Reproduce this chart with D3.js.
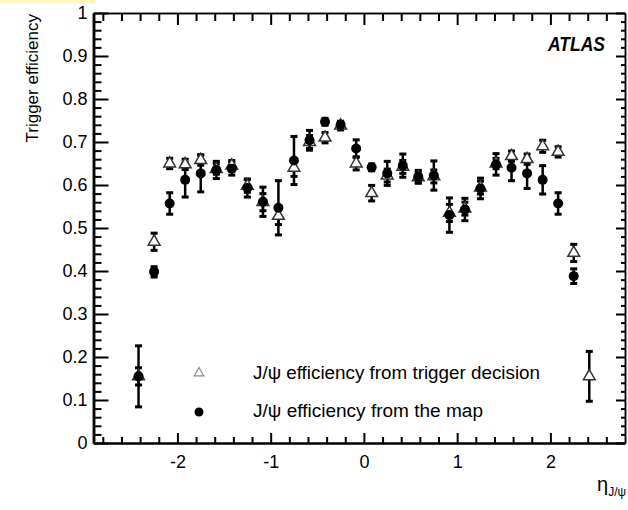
<!DOCTYPE html>
<html>
<head>
<meta charset="utf-8">
<script src="https://cdn.jsdelivr.net/npm/d3@7"></script>
<style>
  html, body { margin: 0; padding: 0; background: #fff; }
  svg { display: block; }
  text { font-family: "Liberation Sans", Arial, Helvetica, sans-serif; fill: #000; }
</style>
</head>
<body>
<svg id="chart" width="628" height="510"></svg>
<script>
// Bin centres in pseudorapidity (bins of width 1/6 between -2.5 and 2.5)
const etaBins = [-2.417, -2.25, -2.083, -1.917, -1.75, -1.583, -1.417, -1.25, -1.083, -0.917,
                 -0.75, -0.583, -0.417, -0.25, -0.083, 0.083, 0.25, 0.417, 0.583, 0.75,
                 0.917, 1.083, 1.25, 1.417, 1.583, 1.75, 1.917, 2.083, 2.25, 2.417];

// J/psi efficiency from trigger decision
const trigEff = [0.155, 0.468, 0.650, 0.648, 0.658, 0.637, 0.645, 0.598, 0.560, 0.528,
                 0.640, 0.700, 0.710, 0.738, 0.650, 0.581, 0.622, 0.642, 0.618, 0.620,
                 0.535, 0.545, 0.594, 0.650, 0.667, 0.660, 0.690, 0.677, 0.442, 0.155];
const trigErr = [0.020, 0.020, 0.012, 0.012, 0.012, 0.012, 0.012, 0.015, 0.020, 0.020,
                 0.020, 0.015, 0.012, 0.010, 0.015, 0.018, 0.015, 0.015, 0.012, 0.015,
                 0.020, 0.015, 0.015, 0.012, 0.012, 0.012, 0.014, 0.012, 0.020, 0.058];

// J/psi efficiency from the map
const mapEff = [0.155, 0.398, 0.557, 0.612, 0.627, 0.635, 0.638, 0.593, 0.561, 0.547,
                0.657, 0.704, 0.747, 0.740, 0.685, 0.641, 0.627, 0.645, 0.619, 0.622,
                0.530, 0.543, 0.592, 0.648, 0.640, 0.627, 0.612, 0.557, 0.388, null];
const mapErr = [0.071, 0.012, 0.025, 0.040, 0.043, 0.020, 0.015, 0.021, 0.034, 0.063,
                0.056, 0.023, 0.008, 0.008, 0.020, 0.008, 0.028, 0.027, 0.015, 0.034,
                0.040, 0.026, 0.024, 0.025, 0.030, 0.035, 0.033, 0.025, 0.017, null];

const xMajor = [-2, -1, 0, 1, 2];
const xMinor = [-2.8, -2.6, -2.4, -2.2, -1.8, -1.6, -1.4, -1.2, -0.8, -0.6, -0.4, -0.2,
                0.2, 0.4, 0.6, 0.8, 1.2, 1.4, 1.6, 1.8, 2.2, 2.4, 2.6];
const yMajor = [0, 0.1, 0.2, 0.3, 0.4, 0.5, 0.6, 0.7, 0.8, 0.9, 1];
const yMinor = d3.range(0, 1.0001, 0.02).filter(v => Math.abs(v * 10 - Math.round(v * 10)) > 1e-6);

const legendItems = ["J/\u03C8 efficiency from trigger decision", "J/\u03C8 efficiency from the map"];

const svg = d3.select("#chart");
const frame = { left: 93.5, right: 625, top: 13, bottom: 443 };

const x = d3.scaleLinear().domain([-2.9, 2.8]).range([frame.left, frame.right]);
const y = d3.scaleLinear().domain([0, 1]).range([frame.bottom, frame.top]);

// thin pale strip along the top-left edge
svg.append("rect").attr("x", 0).attr("y", 0).attr("width", 95).attr("height", 3.5)
  .attr("fill", "#fdf7c4");

function styleAxis(g, width) {
  g.select(".domain").attr("stroke", "#000").attr("stroke-width", width);
  g.selectAll(".tick line").attr("stroke", "#000").attr("stroke-width", 2);
}
function styleLabels(g) {
  g.selectAll(".tick text").attr("font-size", 18).attr("fill", "#000")
    .attr("font-family", "Liberation Sans, Arial, sans-serif");
}

// left axis
const gl = svg.append("g").attr("transform", `translate(${frame.left},0)`);
gl.call(d3.axisLeft(y).tickValues(yMajor).tickSize(-15).tickSizeOuter(0).tickPadding(6)
  .tickFormat(d => d === 0 ? "0" : d === 1 ? "1" : d.toFixed(1)));
styleAxis(gl, 2.5);
styleLabels(gl);
const glm = svg.append("g").attr("transform", `translate(${frame.left},0)`);
glm.call(d3.axisLeft(y).tickValues(yMinor).tickSize(-8).tickSizeOuter(0).tickFormat(""));
styleAxis(glm, 2.5);

// right axis
const gr = svg.append("g").attr("transform", `translate(${frame.right},0)`);
gr.call(d3.axisRight(y).tickValues(yMajor).tickSize(-9).tickSizeOuter(0).tickFormat(""));
styleAxis(gr, 1.5);
const grm = svg.append("g").attr("transform", `translate(${frame.right},0)`);
grm.call(d3.axisRight(y).tickValues(yMinor).tickSize(-4).tickSizeOuter(0).tickFormat(""));
styleAxis(grm, 1.5);

// bottom axis (hyphen minus signs)
const gb = svg.append("g").attr("transform", `translate(0,${frame.bottom})`);
gb.call(d3.axisBottom(x).tickValues(xMajor).tickSize(-10).tickSizeOuter(0).tickPadding(12)
  .tickFormat(d => String(d)));
styleAxis(gb, 2.2);
styleLabels(gb);
const gbm = svg.append("g").attr("transform", `translate(0,${frame.bottom})`);
gbm.call(d3.axisBottom(x).tickValues(xMinor).tickSize(-6).tickSizeOuter(0).tickFormat(""));
styleAxis(gbm, 2.2);

// top axis
const gt = svg.append("g").attr("transform", `translate(0,${frame.top})`);
gt.call(d3.axisTop(x).tickValues(xMajor).tickSize(-12).tickSizeOuter(0).tickFormat(""));
styleAxis(gt, 1.5);
const gtm = svg.append("g").attr("transform", `translate(0,${frame.top})`);
gtm.call(d3.axisTop(x).tickValues(xMinor).tickSize(-8).tickSizeOuter(0).tickFormat(""));
styleAxis(gtm, 1.5);

// axis titles
svg.append("text")
  .attr("transform", `translate(38,${frame.top + 1}) rotate(-90)`)
  .attr("text-anchor", "end")
  .attr("font-size", 17)
  .attr("fill", "#000")
  .text("Trigger efficiency");

const xt = svg.append("text").attr("x", 597).attr("y", 491).attr("font-size", 20).attr("fill", "#000");
xt.append("tspan").text("\u03B7");
xt.append("tspan").attr("font-size", 12).attr("dy", 5).text("J/\u03C8");

// ATLAS label
svg.append("text")
  .attr("x", 548).attr("y", 51)
  .attr("font-size", 20).attr("font-weight", "bold").attr("font-style", "italic")
  .attr("fill", "#000")
  .attr("textLength", 57).attr("lengthAdjust", "spacingAndGlyphs")
  .text("ATLAS");

// data
const trig = etaBins.map((e, i) => ({ eta: e, v: trigEff[i], err: trigErr[i] }));
const map = etaBins.map((e, i) => ({ eta: e, v: mapEff[i], err: mapErr[i] })).filter(d => d.v !== null);

function errorBars(data, cls) {
  const g = svg.append("g").attr("class", cls);
  const bars = g.selectAll("g").data(data).join("g");
  bars.append("line")
    .attr("x1", d => x(d.eta)).attr("x2", d => x(d.eta))
    .attr("y1", d => y(d.v - d.err)).attr("y2", d => y(d.v + d.err))
    .attr("stroke", "#000").attr("stroke-width", 2.5);
  [-1, 1].forEach(s => {
    bars.append("rect")
      .attr("x", d => x(d.eta) - 3.5)
      .attr("y", d => y(d.v + s * d.err) - 1.5)
      .attr("width", 7).attr("height", 3)
      .attr("fill", "#000");
  });
}

errorBars(trig, "trig-err");
errorBars(map, "map-err");

const triangle = d3.symbol().type(d3.symbolTriangle).size(60);

// open triangles first, filled circles drawn over them
svg.append("g").selectAll("path").data(trig).join("path")
  .attr("d", triangle)
  .attr("transform", d => `translate(${x(d.eta)},${y(d.v)})`)
  .attr("fill", "#fff").attr("stroke", "#333").attr("stroke-width", 1.5);

svg.append("g").selectAll("circle").data(map).join("circle")
  .attr("cx", d => x(d.eta)).attr("cy", d => y(d.v)).attr("r", 5)
  .attr("fill", "#000");

// legend
const lg = svg.append("g");
lg.append("path").attr("d", d3.symbol().type(d3.symbolTriangle).size(40))
  .attr("transform", "translate(199,373)")
  .attr("fill", "none").attr("stroke", "#888").attr("stroke-width", 1.2);
lg.append("circle").attr("cx", 199).attr("cy", 412).attr("r", 4.5).attr("fill", "#000");
lg.selectAll("text").data(legendItems).join("text")
  .attr("x", 253)
  .attr("y", (d, i) => 379 + i * 38)
  .attr("font-size", 18)
  .attr("fill", "#000")
  .attr("textLength", (d, i) => i === 0 ? 287 : 230)
  .attr("lengthAdjust", "spacingAndGlyphs")
  .text(d => d);
</script>
</body>
</html>
